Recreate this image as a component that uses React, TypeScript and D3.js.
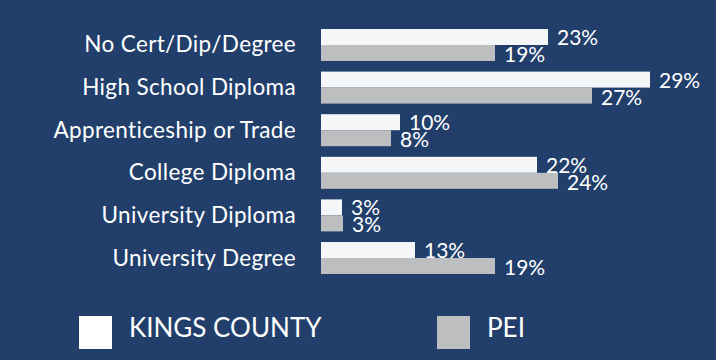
import React from "react";
import * as d3 from "d3";

const categories = [
  "No Cert/Dip/Degree",
  "High School Diploma",
  "Apprenticeship or Trade",
  "College Diploma",
  "University Diploma",
  "University Degree",
];
// bar lengths
const kingsValues = [22.7, 32.9, 7.9, 21.6, 2.1, 9.4];
const peiValues = [17.4, 27.1, 7.0, 23.7, 2.2, 17.4];
// printed labels
const kingsLabels = ["23%", "29%", "10%", "22%", "3%", "13%"];
const peiLabels = ["19%", "27%", "8%", "24%", "3%", "19%"];
const seriesNames = ["KINGS COUNTY", "PEI"];

const W = 716;
const H = 360;
const BG = "#223f6b";
const WHITE = "#f4f6f8";
const GREY = "#bdbec0";
const FONT = "Lato, 'Open Sans', sans-serif";

export default function App() {
  const x = d3.scaleLinear().domain([0, 35]).range([321, 671]);
  const y = d3
    .scaleBand<string>()
    .domain(categories)
    .range([29, 274])
    .paddingInner(0.249)
    .paddingOuter(0);
  const bh = y.bandwidth() / 2;

  return (
    <svg
      width={W}
      height={H}
      style={{ position: "fixed", left: 0, top: 0, display: "block" }}
    >
      <rect x={0} y={0} width={W} height={H} fill={BG} />
      {categories.map((c, i) => {
        const y0 = y(c)!;
        const center = y0 + y.bandwidth() / 2;
        return (
          <g key={c}>
            <text
              x={296}
              y={center + 7.5}
              textAnchor="end"
              fill="#ffffff"
              fontFamily={FONT}
              fontSize={22.5}
              letterSpacing={0.35}
            >
              {c}
            </text>
            <rect
              x={x(0)}
              y={y0}
              width={x(kingsValues[i]) - x(0)}
              height={bh}
              fill={WHITE}
            />
            <rect
              x={x(0)}
              y={y0 + bh}
              width={x(peiValues[i]) - x(0)}
              height={bh}
              fill={GREY}
            />
            <text
              x={x(kingsValues[i]) + 9}
              y={y0 + bh}
              fill="#ffffff"
              fontFamily={FONT}
              fontSize={21}
            >
              {kingsLabels[i]}
            </text>
            <text
              x={x(peiValues[i]) + 9}
              y={y0 + 2 * bh + 1}
              fill="#ffffff"
              fontFamily={FONT}
              fontSize={21}
            >
              {peiLabels[i]}
            </text>
          </g>
        );
      })}
      {seriesNames.map((s, i) => {
        const lx = i === 0 ? 79 : 437;
        return (
          <g key={s}>
            <rect
              x={lx}
              y={316}
              width={33}
              height={33}
              fill={i === 0 ? "#ffffff" : GREY}
            />
            <text
              x={lx + 50}
              y={337}
              fill="#ffffff"
              fontFamily={FONT}
              fontSize={26}
            >
              {s}
            </text>
          </g>
        );
      })}
    </svg>
  );
}
